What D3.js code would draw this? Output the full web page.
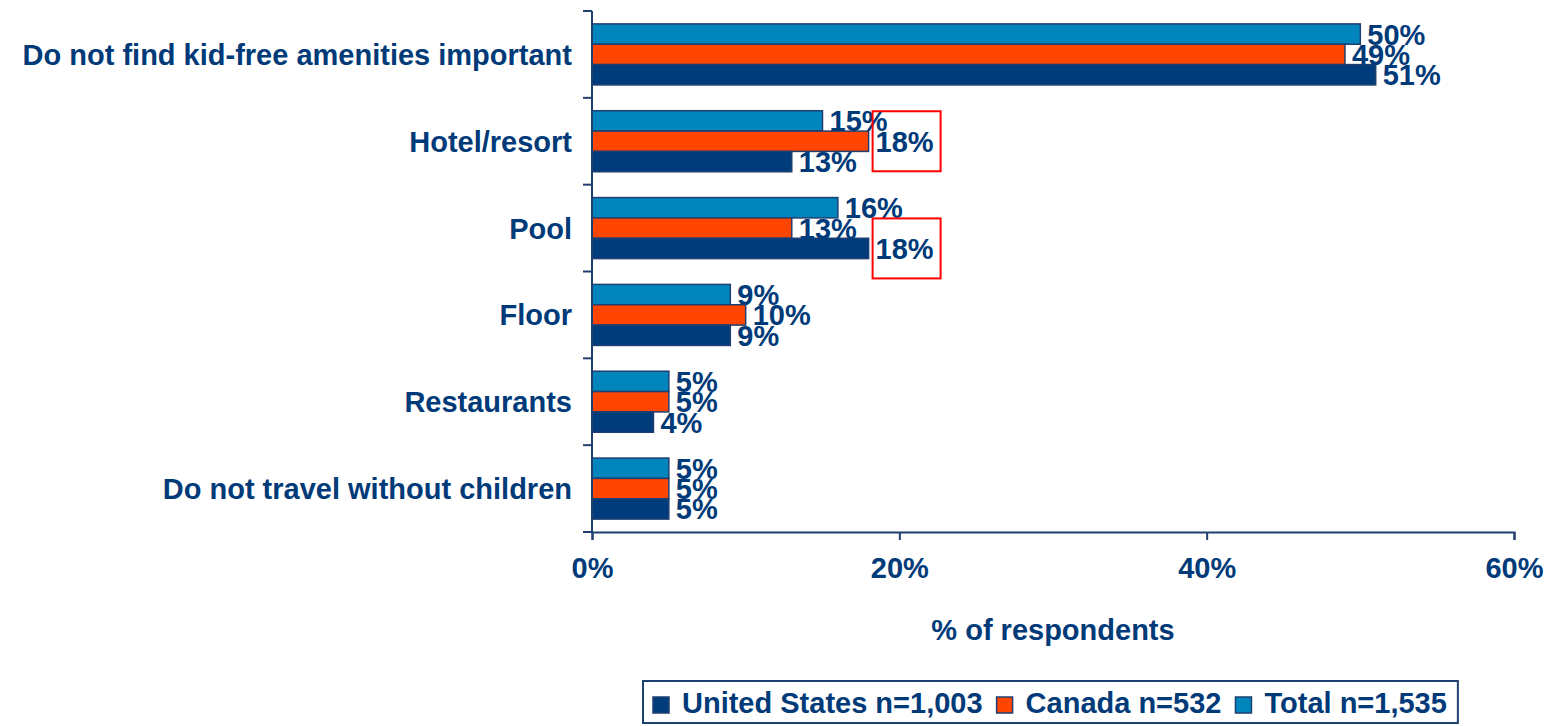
<!DOCTYPE html>
<html>
<head>
<meta charset="utf-8">
<script src="https://cdn.jsdelivr.net/npm/d3@7"></script>
<style>
  body { margin: 0; background: #fff; }
  text { font-family: "Liberation Sans", Arial, sans-serif; font-weight: bold; fill: #003a78; }
</style>
</head>
<body>
<div class="chart"></div>
<script>
// data
var categories = ["Do not find kid-free amenities important", "Hotel/resort", "Pool", "Floor", "Restaurants", "Do not travel without children"];
var seriesNames = ["Total n=1,535", "Canada n=532", "United States n=1,003"];
var totalValues = [50, 15, 16, 9, 5, 5];
var canadaValues = [49, 18, 13, 10, 5, 5];
var usValues = [51, 13, 18, 9, 4, 5];
var xTicks = [0, 20, 40, 60];
var legendOrder = ["United States n=1,003", "Canada n=532", "Total n=1,535"];
// values circled in red on the original slide
var highlights = [{ cat: "Hotel/resort", series: "Canada n=532" }, { cat: "Pool", series: "United States n=1,003" }];

var colors = { "Total n=1,535": "#0085bd", "Canada n=532": "#ff4500", "United States n=1,003": "#003c7c" };
var navy = "#1f3f70", textColor = "#003a78";

var width = 1555, height = 726;
var plot = { left: 592, right: 1514, top: 11, bottom: 532 };

var svg = d3.select("div.chart").append("svg")
  .attr("width", width)
  .attr("height", height);

var x = d3.scaleLinear().domain([0, 60]).range([plot.left, plot.right]);
var y = d3.scaleBand().domain(categories).range([plot.top, plot.bottom])
  .paddingInner(0.297).paddingOuter(0.1485);
var ySub = d3.scaleBand().domain(seriesNames).range([0, y.bandwidth()]);

var rows = [];
categories.forEach(function (c, i) {
  rows.push({ cat: c, series: seriesNames[0], value: totalValues[i] });
  rows.push({ cat: c, series: seriesNames[1], value: canadaValues[i] });
  rows.push({ cat: c, series: seriesNames[2], value: usValues[i] });
});

// bars
svg.append("g").selectAll("rect")
  .data(rows).enter().append("rect")
  .attr("x", x(0))
  .attr("y", function (d) { return y(d.cat) + ySub(d.series); })
  .attr("width", function (d) { return x(d.value) - x(0); })
  .attr("height", ySub.bandwidth())
  .style("fill", function (d) { return colors[d.series]; })
  .style("stroke", navy)
  .style("stroke-width", 1.5);

// value labels
svg.append("g").selectAll("text")
  .data(rows).enter().append("text")
  .attr("x", function (d) { return x(d.value) + 7; })
  .attr("y", function (d) { return y(d.cat) + ySub(d.series) + ySub.bandwidth() / 2; })
  .attr("dy", "0.36em")
  .style("font-size", "29px")
  .text(function (d) { return d.value + "%"; });

// red boxes
svg.append("g").selectAll("rect")
  .data(highlights).enter().append("rect")
  .attr("x", function (h) {
    var r = rows.find(function (d) { return d.cat == h.cat && d.series == h.series; });
    return x(r.value) + 4;
  })
  .attr("y", function (h) { return y(h.cat) + ySub(h.series) + ySub.bandwidth() / 2 - 30; })
  .attr("width", 68)
  .attr("height", 60)
  .style("fill", "none")
  .style("stroke", "#ff0000")
  .style("stroke-width", 2);

// y axis with ticks between categories
var yAxis = svg.append("g");
yAxis.append("line")
  .attr("x1", plot.left).attr("x2", plot.left)
  .attr("y1", plot.top).attr("y2", plot.bottom)
  .style("stroke", navy).style("stroke-width", 2);
var bounds = d3.range(categories.length + 1).map(function (i) { return plot.top + i * y.step(); });
yAxis.selectAll("line.tick")
  .data(bounds).enter().append("line")
  .attr("class", "tick")
  .attr("x1", plot.left - 9).attr("x2", plot.left)
  .attr("y1", function (d) { return d; }).attr("y2", function (d) { return d; })
  .style("stroke", navy).style("stroke-width", 2);
yAxis.selectAll("text")
  .data(categories).enter().append("text")
  .attr("x", 572)
  .attr("y", function (d) { return y(d) + y.bandwidth() / 2; })
  .attr("dy", "0.36em")
  .style("text-anchor", "end")
  .style("font-size", "29px")
  .text(function (d) { return d; });

// x axis
var xAxis = svg.append("g")
  .attr("transform", "translate(0," + plot.bottom + ")")
  .call(d3.axisBottom(x).tickValues(xTicks).tickSize(8).tickPadding(17)
    .tickFormat(function (d) { return d + "%"; }));
xAxis.select(".domain").style("stroke", navy).style("stroke-width", 2);
xAxis.selectAll(".tick line").style("stroke", navy).style("stroke-width", 2);
xAxis.selectAll(".tick text")
  .attr("dy", "0.71em")
  .style("font-size", "29px")
  .style("font-family", "'Liberation Sans', Arial, sans-serif")
  .style("fill", textColor);

svg.append("text")
  .attr("x", (plot.left + plot.right) / 2)
  .attr("y", 640)
  .style("text-anchor", "middle")
  .style("font-size", "29px")
  .text("% of respondents");

// legend
var legend = svg.append("g");
var lx = 653;
legendOrder.forEach(function (name) {
  legend.append("rect")
    .attr("x", lx).attr("y", 697)
    .attr("width", 16).attr("height", 16)
    .style("fill", colors[name])
    .style("stroke", navy).style("stroke-width", 1.5);
  var t = legend.append("text")
    .attr("x", lx + 29).attr("y", 713)
    .style("font-size", "29px")
    .text(name);
  lx = lx + 29 + t.node().getComputedTextLength() + 14;
});
legend.insert("rect", ":first-child")
  .attr("x", 643).attr("y", 681)
  .attr("width", lx - 14 - 643 + 11).attr("height", 42)
  .style("fill", "none")
  .style("stroke", navy).style("stroke-width", 2);
</script>
</body>
</html>
